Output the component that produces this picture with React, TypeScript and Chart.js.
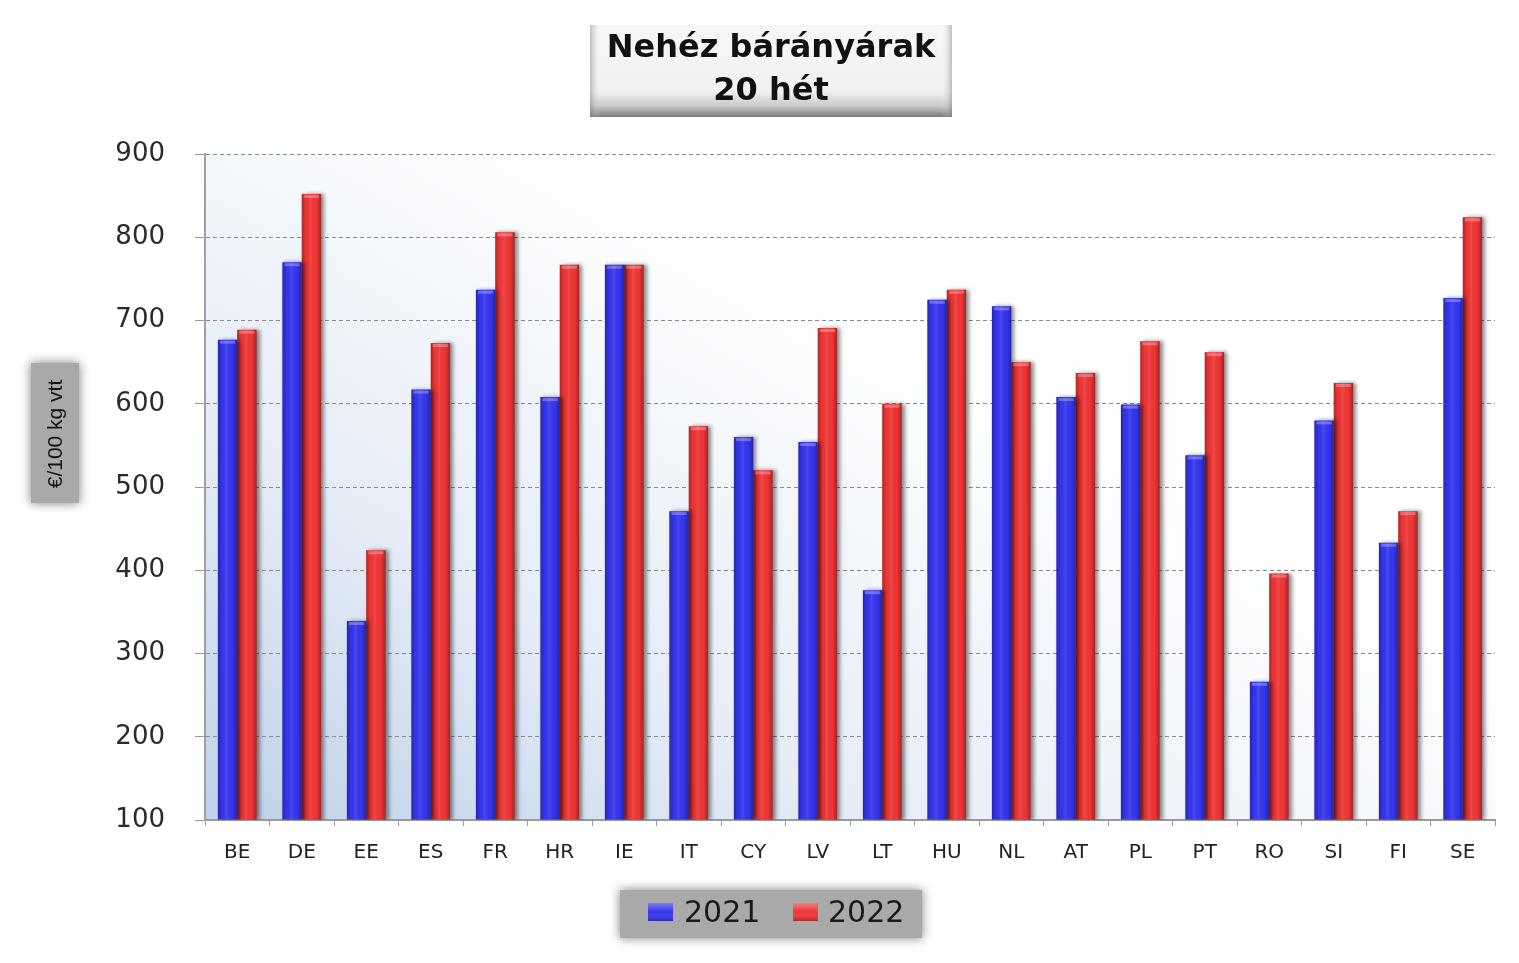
import React, { useEffect, useRef } from "react";
import { Chart, registerables } from "chart.js";

Chart.register(...registerables);

const categories = ["BE", "DE", "EE", "ES", "FR", "HR", "IE", "IT", "CY", "LV", "LT", "HU", "NL", "AT", "PL", "PT", "RO", "SI", "FI", "SE"];
const values2021 = [677, 770, 339, 617, 737, 608, 767, 471, 560, 554, 376, 725, 717, 608, 599, 538, 266, 580, 433, 727];
const values2022 = [689, 852, 424, 673, 806, 767, 767, 573, 520, 691, 600, 737, 650, 637, 675, 662, 396, 625, 471, 824];
const seriesLabels = ["2021", "2022"];
const seriesColors = ["#3535ee", "#f03535"];
const yMin = 100;
const yMax = 900;
const yStep = 100;
const titleLines = ["Nehéz bárányárak", "20 hét"];
const yAxisTitle = "€/100 kg vtt";

const FONT = "'DejaVu Sans', Verdana, sans-serif";

function blurBox(ctx: CanvasRenderingContext2D, x: number, y: number, w: number, h: number, color: string) {
  ctx.save();
  ctx.shadowColor = "rgba(90,90,90,0.8)";
  ctx.shadowBlur = 10;
  ctx.fillStyle = color;
  ctx.fillRect(x, y, w, h);
  ctx.restore();
}

function swatch(ctx: CanvasRenderingContext2D, x: number, y: number, w: number, h: number, color: string) {
  ctx.save();
  ctx.fillStyle = color;
  ctx.fillRect(x, y, w, h);
  const g = ctx.createLinearGradient(0, y, 0, y + h);
  g.addColorStop(0, "rgba(255,255,255,0.35)");
  g.addColorStop(0.5, "rgba(255,255,255,0)");
  g.addColorStop(1, "rgba(0,0,0,0.25)");
  ctx.fillStyle = g;
  ctx.fillRect(x, y, w, h);
  ctx.restore();
}

const decorPlugin = {
  id: "decor",
  beforeDraw(chart: any) {
    const ctx: CanvasRenderingContext2D = chart.ctx;
    const a = chart.chartArea;
    ctx.save();
    ctx.fillStyle = "#ffffff";
    ctx.fillRect(0, 0, chart.width, chart.height);
    // plot area gradient
    const g = ctx.createLinearGradient(a.left, a.bottom, a.left + (a.right - a.left) * 0.3, a.top);
    g.addColorStop(0, "#bfd0e8");
    g.addColorStop(0.45, "#e6edf7");
    g.addColorStop(1, "#ffffff");
    ctx.fillStyle = g;
    ctx.fillRect(a.left, a.top, a.right - a.left, a.bottom - a.top);

    // title box
    const tx = 590, ty = 25, tw = 362, th = 92;
    const tg = ctx.createLinearGradient(0, ty, 0, ty + th);
    tg.addColorStop(0, "#f7f7f7");
    tg.addColorStop(0.72, "#f1f1f1");
    tg.addColorStop(0.88, "#c9c9c9");
    tg.addColorStop(1, "#7c7c7c");
    ctx.fillStyle = tg;
    ctx.fillRect(tx, ty, tw, th);
    const sg = ctx.createLinearGradient(tx, 0, tx + tw, 0);
    sg.addColorStop(0, "rgba(120,120,120,0.45)");
    sg.addColorStop(0.03, "rgba(255,255,255,0)");
    sg.addColorStop(0.97, "rgba(255,255,255,0)");
    sg.addColorStop(1, "rgba(120,120,120,0.45)");
    ctx.fillStyle = sg;
    ctx.fillRect(tx, ty, tw, th);
    ctx.fillStyle = "#111111";
    ctx.font = `bold 32px ${FONT}`;
    ctx.textAlign = "center";
    ctx.textBaseline = "middle";
    ctx.fillText(titleLines[0], tx + tw / 2, 49);
    ctx.fillText(titleLines[1], tx + tw / 2, 92);

    // y-axis title box
    blurBox(ctx, 31, 363, 48, 140, "#a9a9a9");
    ctx.save();
    ctx.translate(56, 434);
    ctx.rotate(-Math.PI / 2);
    ctx.fillStyle = "#151515";
    ctx.font = `21px 'Liberation Sans', Arial, sans-serif`;
    ctx.textAlign = "center";
    ctx.textBaseline = "middle";
    ctx.fillText(yAxisTitle, 0, 0);
    ctx.restore();

    // legend box
    blurBox(ctx, 620, 890, 302, 48, "#a9a9a9");
    const legendItems = [
      { x: 648, tx: 684 },
      { x: 793, tx: 828 },
    ];
    ctx.font = `30px ${FONT}`;
    ctx.textAlign = "left";
    ctx.textBaseline = "middle";
    legendItems.forEach((it, i) => {
      swatch(ctx, it.x, 903, 25, 18, seriesColors[i]);
      ctx.fillStyle = "#1a1a1a";
      ctx.fillText(seriesLabels[i], it.tx, 914);
    });
    ctx.restore();
  },
  beforeDatasetsDraw(chart: any) {
    const ctx: CanvasRenderingContext2D = chart.ctx;
    ctx.save();
    ctx.shadowColor = "rgba(0,0,0,0.45)";
    ctx.shadowBlur = 4;
    ctx.shadowOffsetX = 3;
    ctx.shadowOffsetY = 0;
  },
  afterDatasetsDraw(chart: any) {
    const ctx: CanvasRenderingContext2D = chart.ctx;
    ctx.restore();
    const a = chart.chartArea;
    ctx.save();
    ctx.beginPath();
    ctx.rect(a.left, a.top, a.right - a.left, a.bottom - a.top);
    ctx.clip();
    chart.data.datasets.forEach((_: any, di: number) => {
      const meta = chart.getDatasetMeta(di);
      meta.data.forEach((el: any) => {
        const left = el.x - el.width / 2;
        const w = el.width;
        const top = el.y;
        const h = el.base - el.y;
        const g = ctx.createLinearGradient(left, 0, left + w, 0);
        g.addColorStop(0, "rgba(0,0,0,0.28)");
        g.addColorStop(0.22, "rgba(0,0,0,0)");
        g.addColorStop(0.45, "rgba(255,255,255,0.10)");
        g.addColorStop(0.75, "rgba(0,0,0,0)");
        g.addColorStop(1, "rgba(0,0,0,0.32)");
        ctx.fillStyle = g;
        ctx.fillRect(left, top, w, h);
        ctx.fillStyle = "rgba(255,255,255,0.28)";
        ctx.fillRect(left + 2, top + 1, w - 4, 3);
      });
    });
    ctx.restore();
  },
};

export default function App() {
  const canvasRef = useRef<HTMLCanvasElement | null>(null);

  useEffect(() => {
    const canvas = canvasRef.current;
    if (!canvas) return;
    const chart = new Chart(canvas, {
      type: "bar",
      data: {
        labels: categories,
        datasets: [
          { label: seriesLabels[0], data: values2021, backgroundColor: seriesColors[0], borderWidth: 0, base: yMin },
          { label: seriesLabels[1], data: values2022, backgroundColor: seriesColors[1], borderWidth: 0, base: yMin },
        ],
      },
      options: {
        responsive: false,
        animation: false,
        devicePixelRatio: 1,
        layout: { padding: { top: 154, right: 24, left: 0, bottom: 0 } },
        datasets: { bar: { categoryPercentage: 0.6, barPercentage: 1.0 } },
        plugins: {
          legend: { display: false },
          title: { display: false },
          tooltip: { enabled: false },
        },
        scales: {
          x: {
            afterFit: (s: any) => {
              s.height = 143;
            },
            grid: {
              display: true,
              drawOnChartArea: false,
              drawTicks: true,
              tickLength: 6,
              color: "#9a9a9a",
              tickColor: "#9a9a9a",
              offset: true,
            },
            border: { display: true, color: "#9a9a9a", width: 2 },
            ticks: {
              font: { family: FONT, size: 20 },
              color: "#222222",
              padding: 15,
              maxRotation: 0,
              autoSkip: false,
            },
          },
          y: {
            min: yMin,
            max: yMax,
            afterFit: (s: any) => {
              s.width = 205;
            },
            grid: {
              color: "#8a8a8a",
              lineWidth: 1,
              drawTicks: true,
              tickLength: 10,
              tickColor: "#9a9a9a",
              tickBorderDash: [],
            },
            border: { display: true, color: "#a0a0a0", width: 2, dash: [4, 3] },
            ticks: {
              stepSize: yStep,
              font: { family: FONT, size: 26 },
              color: "#2a2a2a",
              padding: 30,
            },
          },
        },
      },
      plugins: [decorPlugin],
    } as any);
    return () => chart.destroy();
  }, []);

  return (
    <canvas
      ref={canvasRef}
      width={1519}
      height={963}
      style={{ position: "fixed", left: 0, top: 0, display: "block" }}
    />
  );
}
